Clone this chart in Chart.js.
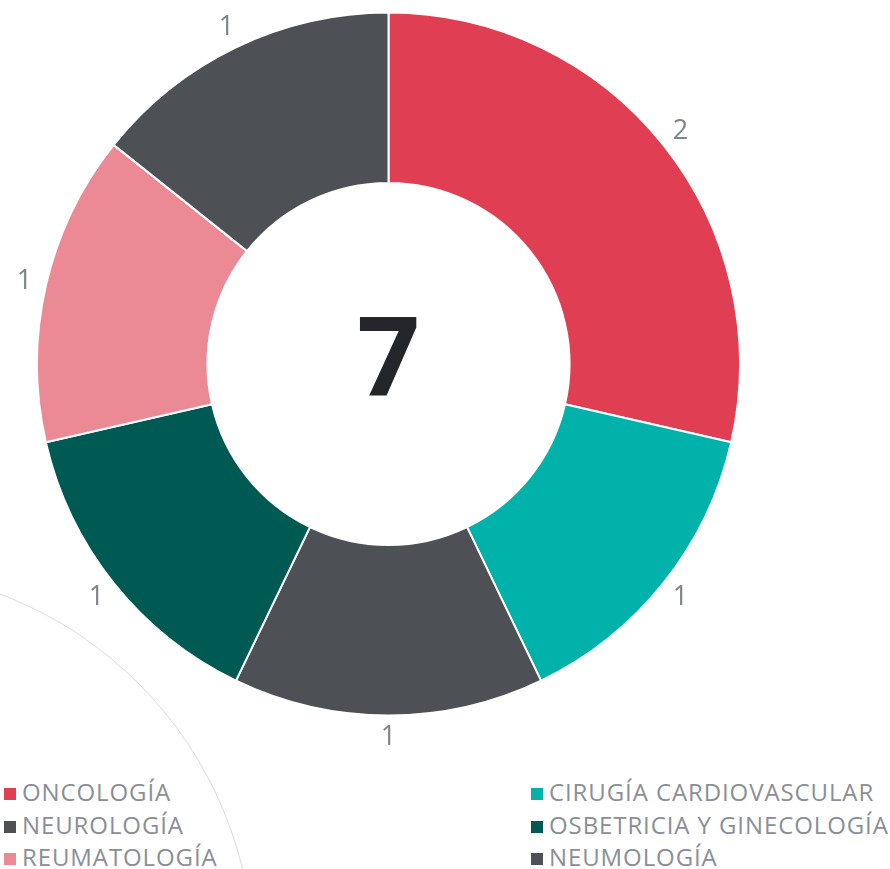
<!DOCTYPE html>
<html>
<head>
<meta charset="utf-8">
<script src="https://cdn.jsdelivr.net/npm/chart.js@4/dist/chart.umd.min.js"></script>
<style>
    body { margin: 0; background: #fff; }
    #wrap { position: relative; width: 890px; height: 869px; overflow: hidden; font-family: "Open Sans", sans-serif; }
    #deco { position: absolute; left: -532px; top: 568px; width: 784px; height: 784px; border: 1px solid #dcdcdc; border-radius: 50%; }
    #chartBox { position: absolute; left: 0; top: 0; width: 890px; height: 770px; }
    #legend { position: absolute; left: 0; top: 776px; width: 890px; }
    .item { position: absolute; height: 32px; line-height: 32px; font-size: 24px; letter-spacing: 0.9px; color: #8a8f96; white-space: nowrap; }
    .item span { display: inline-block; width: 12px; height: 12px; margin-right: 6px; vertical-align: 1px; }
</style>
</head>
<body>
<div id="wrap">
    <div id="deco"></div>
    <div id="chartBox"><canvas id="donut"></canvas></div>
    <div id="legend"></div>
</div>
<script>
// Datos del gráfico
const categories = ['ONCOLOGÍA', 'CIRUGÍA CARDIOVASCULAR', 'NEUROLOGÍA', 'OSBETRICIA Y GINECOLOGÍA', 'REUMATOLOGÍA', 'NEUMOLOGÍA'];
const values = [2, 1, 1, 1, 1, 1];
const colors = ['#e03e52', '#00b2a9', '#4d5055', '#005a54', '#eb8a95', '#4d5055'];

const total = values.reduce((a, b) => a + b, 0);

// Etiquetas fuera de cada porción + total en el centro
const outsideLabels = {
    id: 'outsideLabels',
    afterDraw(chart) {
        const ctx = chart.ctx;
        const arcs = chart.getDatasetMeta(0).data;
        ctx.save();
        ctx.textAlign = 'center';
        ctx.textBaseline = 'middle';
        ctx.fillStyle = '#7e848b';
        ctx.font = '27px "Open Sans"';
        arcs.forEach((arc, i) => {
            const mid = (arc.startAngle + arc.endAngle) / 2;
            const r = arc.outerRadius + 22;
            ctx.fillText(String(values[i]), arc.x + Math.cos(mid) * r, arc.y + Math.sin(mid) * r);
        });
        const a0 = arcs[0];
        ctx.fillStyle = '#25262b';
        ctx.font = 'bold 110px "Open Sans"';
        ctx.fillText(String(total), a0.x, a0.y);
        ctx.restore();
    }
};

new Chart(document.getElementById('donut'), {
    type: 'doughnut',
    data: {
        labels: categories,
        datasets: [{
            data: values,
            backgroundColor: colors,
            borderColor: '#ffffff',
            borderWidth: 2,
            hoverOffset: 0,
            offset: 0
        }]
    },
    options: {
        responsive: true,
        maintainAspectRatio: false,
        animation: false,
        cutout: '51.5%',
        layout: { padding: { left: 36, right: 149, top: 11, bottom: 53 } },
        plugins: {
            legend: { display: false },
            tooltip: { enabled: false }
        }
    },
    plugins: [outsideLabels]
});

// Leyenda en dos columnas
const legendEl = document.getElementById('legend');
legendEl.innerHTML = categories.map((name, i) => {
    const col = i % 2, row = Math.floor(i / 2);
    const left = col === 0 ? 4 : 531;
    return `<div class="item" style="left:${left}px;top:${row * 32.5}px"><span style="background:${colors[i]}"></span>${name}</div>`;
}).join('');
</script>
</body>
</html>
